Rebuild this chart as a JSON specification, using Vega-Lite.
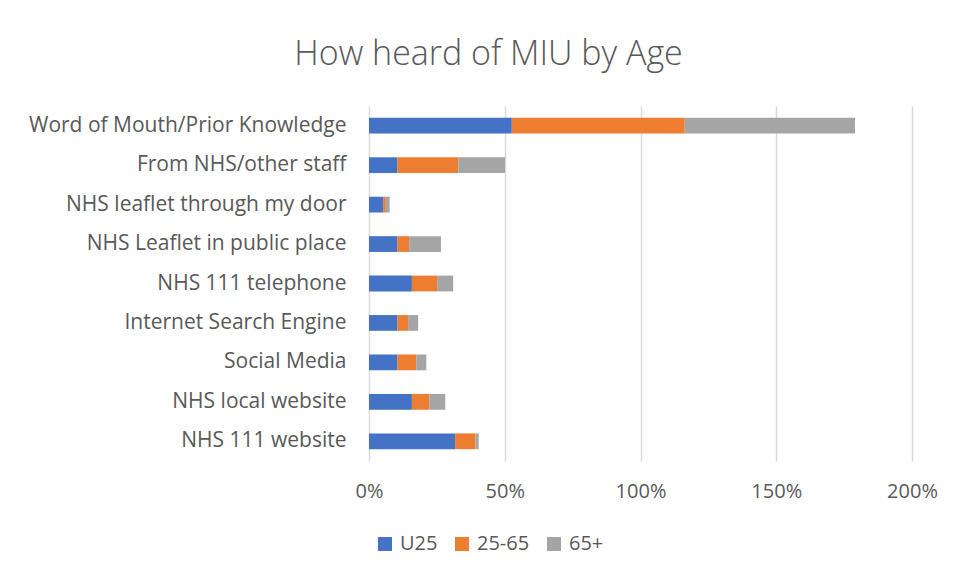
{
  "$schema": "https://vega.github.io/schema/vega-lite/v6.json",
  "width": 543,
  "height": 355,
  "autosize": "none",
  "padding": {"left": 369, "top": 106, "right": 43, "bottom": 118},
  "background": "white",
  "title": {
    "text": "How heard of MIU by Age",
    "fontSize": 34,
    "font": "Open Sans",
    "fontWeight": 300,
    "color": "#595959",
    "anchor": "middle",
    "dx": -152,
    "offset": 34
  },
  "data": {
    "values": [
      {"source": "Word of Mouth/Prior Knowledge", "age": "U25", "o": 1, "value": 0.526},
      {"source": "Word of Mouth/Prior Knowledge", "age": "25-65", "o": 2, "value": 0.637},
      {"source": "Word of Mouth/Prior Knowledge", "age": "65+", "o": 3, "value": 0.627},
      {"source": "From NHS/other staff", "age": "U25", "o": 1, "value": 0.105},
      {"source": "From NHS/other staff", "age": "25-65", "o": 2, "value": 0.224},
      {"source": "From NHS/other staff", "age": "65+", "o": 3, "value": 0.172},
      {"source": "NHS leaflet through my door", "age": "U25", "o": 1, "value": 0.052},
      {"source": "NHS leaflet through my door", "age": "25-65", "o": 2, "value": 0.010},
      {"source": "NHS leaflet through my door", "age": "65+", "o": 3, "value": 0.014},
      {"source": "NHS Leaflet in public place", "age": "U25", "o": 1, "value": 0.105},
      {"source": "NHS Leaflet in public place", "age": "25-65", "o": 2, "value": 0.043},
      {"source": "NHS Leaflet in public place", "age": "65+", "o": 3, "value": 0.117},
      {"source": "NHS 111 telephone", "age": "U25", "o": 1, "value": 0.158},
      {"source": "NHS 111 telephone", "age": "25-65", "o": 2, "value": 0.093},
      {"source": "NHS 111 telephone", "age": "65+", "o": 3, "value": 0.059},
      {"source": "Internet Search Engine", "age": "U25", "o": 1, "value": 0.105},
      {"source": "Internet Search Engine", "age": "25-65", "o": 2, "value": 0.039},
      {"source": "Internet Search Engine", "age": "65+", "o": 3, "value": 0.037},
      {"source": "Social Media", "age": "U25", "o": 1, "value": 0.105},
      {"source": "Social Media", "age": "25-65", "o": 2, "value": 0.069},
      {"source": "Social Media", "age": "65+", "o": 3, "value": 0.037},
      {"source": "NHS local website", "age": "U25", "o": 1, "value": 0.158},
      {"source": "NHS local website", "age": "25-65", "o": 2, "value": 0.064},
      {"source": "NHS local website", "age": "65+", "o": 3, "value": 0.059},
      {"source": "NHS 111 website", "age": "U25", "o": 1, "value": 0.317},
      {"source": "NHS 111 website", "age": "25-65", "o": 2, "value": 0.075},
      {"source": "NHS 111 website", "age": "65+", "o": 3, "value": 0.012}
    ]
  },
  "mark": {"type": "bar"},
  "encoding": {
    "y": {
      "field": "source",
      "type": "nominal",
      "sort": null,
      "scale": {"paddingInner": 0.6, "paddingOuter": 0.3},
      "axis": {
        "title": null,
        "ticks": false,
        "domain": false,
        "labelFont": "Open Sans",
        "labelFontSize": 21,
        "labelColor": "#595959",
        "labelPadding": 23,
        "labelLimit": 400
      }
    },
    "x": {
      "field": "value",
      "type": "quantitative",
      "stack": "zero",
      "scale": {"domain": [0, 2], "nice": false},
      "axis": {
        "title": null,
        "format": ".0%",
        "values": [0, 0.5, 1, 1.5, 2],
        "ticks": false,
        "domain": false,
        "grid": true,
        "gridColor": "#d9d9d9",
        "gridWidth": 1.5,
        "labelFlush": false,
        "labelFont": "Open Sans",
        "labelFontSize": 20,
        "labelColor": "#595959",
        "labelPadding": 20
      }
    },
    "color": {
      "field": "age",
      "type": "nominal",
      "sort": ["U25", "25-65", "65+"],
      "scale": {"domain": ["U25", "25-65", "65+"], "range": ["#4472c4", "#ed7d31", "#a5a5a5"]},
      "legend": {
        "title": null,
        "orient": "none",
        "direction": "horizontal",
        "legendX": 6,
        "legendY": 428,
        "symbolType": "square",
        "symbolSize": 196,
        "symbolStrokeWidth": 0,
        "labelFont": "Open Sans",
        "labelFontSize": 20,
        "labelColor": "#595959",
        "columnPadding": 14,
        "labelOffset": 5
      }
    },
    "order": {"field": "o", "type": "quantitative"}
  },
  "config": {"view": {"stroke": null}}
}
